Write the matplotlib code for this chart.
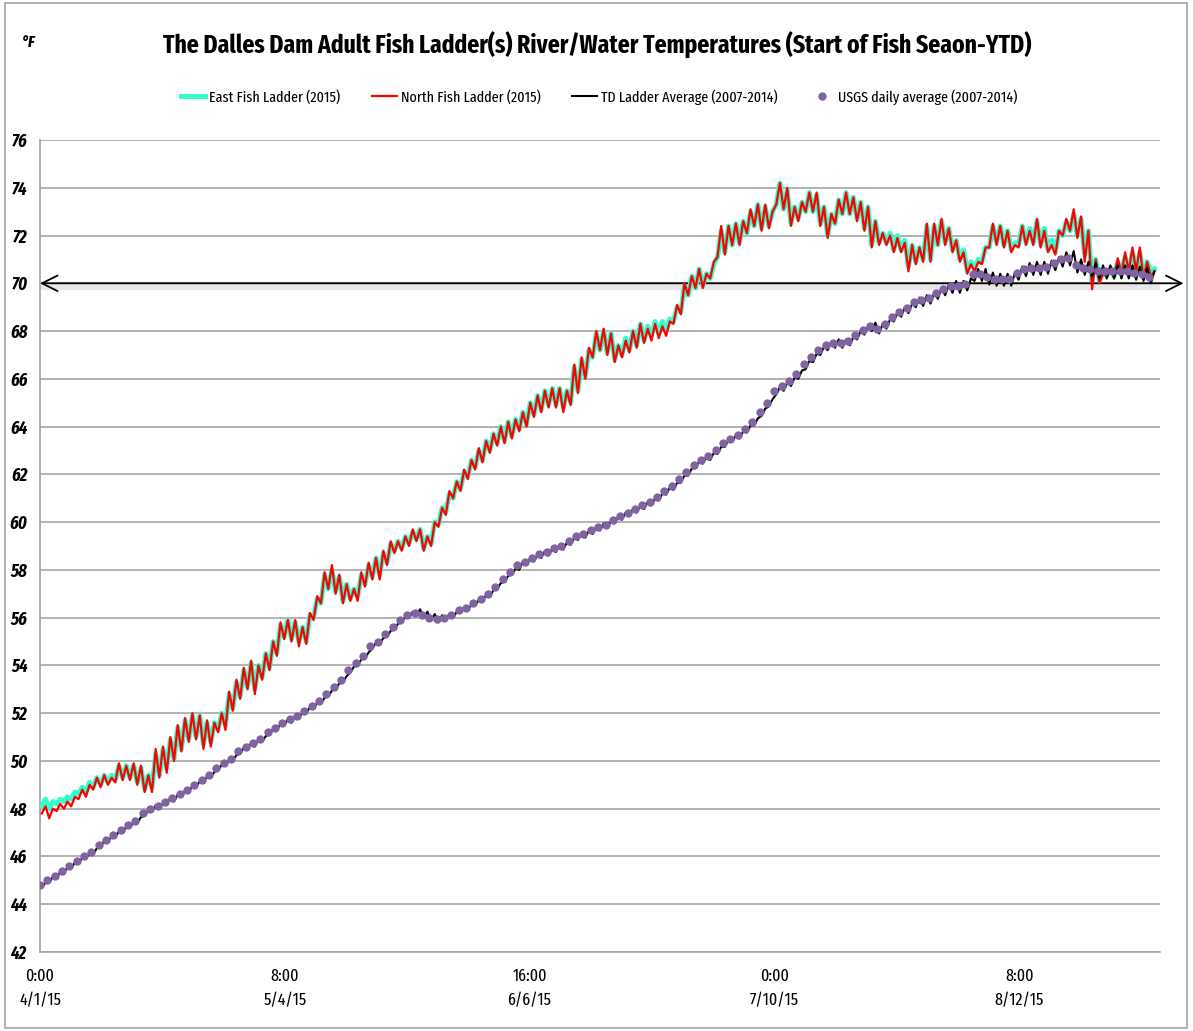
import numpy as np
import matplotlib.pyplot as plt
from matplotlib.patches import Rectangle

# --- fonts: narrow Calibri-like faces first, DejaVu as last resort ---
plt.rcParams['font.family'] = ['Fira Sans Extra Condensed', 'PT Sans Narrow',
                               'Fira Sans Condensed', 'Carlito', 'DejaVu Sans']

# --- data: one value per day from 4/1/15 (deg F) ---
# North Fish Ladder (2015): daily low / daily high
north_lo = [47.8, 47.6, 47.9, 48.0, 48.1, 48.4, 48.5, 48.8, 48.9, 49.0,
            49.1, 49.2, 49.2, 49.0, 48.7, 48.7, 49.3, 49.5, 50.0, 50.4,
            50.8, 50.9, 50.5, 50.6, 51.2, 51.3, 52.1, 52.6, 53.0, 52.8,
            53.4, 53.8, 54.4, 55.1, 55.0, 54.8, 54.9, 55.9, 56.6, 57.2,
            57.0, 56.6, 56.7, 56.7, 57.3, 57.6, 57.6, 58.2, 58.7, 58.8,
            59.0, 59.2, 58.8, 59.0, 59.8, 60.3, 61.0, 61.3, 61.8, 62.2,
            62.5, 62.9, 63.2, 63.3, 63.5, 63.8, 64.0, 64.4, 64.6, 64.8,
            64.8, 64.6, 64.9, 65.4, 66.0, 66.9, 67.2, 67.0, 66.7, 66.9,
            67.1, 67.3, 67.5, 67.6, 67.7, 67.8, 68.3, 68.7, 69.5, 69.8,
            69.8, 70.2, 71.1, 71.2, 71.6, 71.6, 72.1, 72.4, 72.2, 72.3,
            73.3, 73.1, 72.4, 72.6, 73.0, 73.0, 72.4, 71.9, 72.5, 72.9,
            72.9, 72.6, 72.2, 71.5, 71.6, 71.6, 71.3, 71.3, 70.5, 70.8,
            70.9, 70.9, 71.6, 71.6, 71.3, 70.9, 70.4, 70.5, 70.8, 71.5,
            71.6, 71.5, 71.3, 71.5, 71.6, 71.6, 71.5, 71.3, 71.2, 72.0,
            72.2, 71.9, 70.9, 69.75, 70.0, 70.3, 70.2, 70.4, 70.5, 70.5,
            70.2, 70.3]
north_hi = [48.1, 48.0, 48.2, 48.3, 48.5, 48.8, 49.0, 49.3, 49.4, 49.3,
            49.9, 49.8, 49.9, 49.8, 49.4, 50.5, 50.6, 51.0, 51.5, 51.8,
            52.0, 51.9, 51.7, 51.6, 52.0, 52.9, 53.4, 53.9, 54.2, 54.0,
            54.5, 55.0, 55.8, 55.9, 55.9, 55.6, 56.2, 56.9, 57.9, 58.2,
            57.8, 57.4, 57.2, 57.9, 58.3, 58.5, 58.8, 59.2, 59.2, 59.4,
            59.7, 59.7, 59.4, 60.0, 60.6, 61.3, 61.7, 62.2, 62.6, 63.1,
            63.4, 63.7, 64.0, 64.2, 64.3, 64.6, 65.0, 65.3, 65.5, 65.6,
            65.6, 65.5, 66.6, 66.9, 67.3, 68.0, 68.1, 67.9, 67.4, 67.6,
            68.0, 68.3, 68.1, 68.3, 68.2, 68.4, 69.1, 70.0, 70.3, 70.6,
            70.4, 70.9, 72.4, 72.4, 72.5, 72.6, 73.1, 73.3, 73.3, 73.0,
            74.2, 74.0, 73.2, 73.4, 73.8, 73.8, 73.2, 72.9, 73.5, 73.8,
            73.6, 73.4, 73.2, 72.6, 72.1, 72.0, 71.9, 71.7, 71.6, 71.5,
            72.5, 72.5, 72.7, 72.3, 71.8, 71.3, 70.8, 70.9, 71.5, 72.5,
            72.4, 72.2, 71.6, 72.4, 72.2, 72.7, 72.2, 71.6, 72.2, 72.7,
            73.1, 72.8, 72.2, 71.0, 70.4, 70.6, 71.05, 71.3, 71.5, 71.5,
            70.9, 70.5]

# East Fish Ladder (2015): daily low / daily high
east_lo = [48.1, 48.0, 48.2, 48.3, 48.4, 48.6, 48.7, 48.9, 49.0, 49.1,
           49.2, 49.3, 49.3, 49.1, 48.8, 48.9, 49.4, 49.7, 50.1, 50.5,
           50.9, 51.0, 50.7, 50.8, 51.3, 51.5, 52.2, 52.7, 53.1, 53.0,
           53.5, 53.9, 54.5, 55.2, 55.1, 55.0, 55.0, 56.0, 56.6, 57.2,
           57.1, 56.7, 56.8, 56.9, 57.4, 57.7, 57.8, 58.3, 58.8, 58.9,
           59.1, 59.3, 58.9, 59.1, 59.9, 60.4, 61.0, 61.4, 61.9, 62.3,
           62.6, 63.0, 63.3, 63.4, 63.6, 63.9, 64.1, 64.5, 64.7, 64.9,
           64.9, 64.8, 65.0, 65.5, 66.1, 66.9, 67.2, 67.1, 66.8, 67.0,
           67.2, 67.4, 67.6, 67.8, 67.9, 68.0, 68.4, 68.8, 69.5, 69.8,
           69.9, 70.2, 71.1, 71.3, 71.6, 71.7, 72.1, 72.4, 72.3, 72.4,
           73.3, 73.1, 72.5, 72.7, 73.0, 73.0, 72.5, 72.0, 72.5, 72.9,
           72.9, 72.7, 72.3, 71.6, 71.7, 71.7, 71.4, 71.4, 70.7, 70.9,
           71.0, 71.0, 71.6, 71.7, 71.4, 71.0, 70.5, 70.6, 70.9, 71.5,
           71.7, 71.6, 71.4, 71.6, 71.7, 71.7, 71.6, 71.4, 71.3, 72.0,
           72.2, 72.0, 71.2, 70.1, 70.1, 70.3, 70.3, 70.5, 70.5, 70.6,
           70.3, 70.5]
east_hi = [48.4, 48.3, 48.4, 48.5, 48.7, 48.9, 49.1, 49.3, 49.4, 49.4,
           49.8, 49.8, 49.8, 49.7, 49.4, 50.3, 50.5, 50.9, 51.4, 51.7,
           51.9, 51.9, 51.6, 51.6, 52.0, 52.8, 53.3, 53.8, 54.1, 54.0,
           54.5, 55.0, 55.7, 55.9, 55.8, 55.6, 56.1, 56.8, 57.8, 58.0,
           57.7, 57.4, 57.2, 57.8, 58.2, 58.5, 58.7, 59.1, 59.2, 59.4,
           59.6, 59.7, 59.4, 60.0, 60.6, 61.2, 61.7, 62.1, 62.6, 63.0,
           63.4, 63.7, 64.0, 64.2, 64.3, 64.6, 65.0, 65.3, 65.5, 65.6,
           65.6, 65.5, 66.5, 66.8, 67.2, 67.9, 68.0, 67.9, 67.4, 67.7,
           68.0, 68.3, 68.2, 68.4, 68.4, 68.5, 69.0, 69.9, 70.3, 70.6,
           70.4, 70.8, 72.2, 72.4, 72.5, 72.6, 73.0, 73.3, 73.2, 73.0,
           74.2, 73.9, 73.2, 73.4, 73.8, 73.7, 73.2, 72.9, 73.5, 73.8,
           73.6, 73.4, 73.2, 72.6, 72.1, 72.1, 72.0, 71.8, 71.6, 71.5,
           72.4, 72.4, 72.6, 72.3, 71.8, 71.4, 70.9, 71.0, 71.5, 72.4,
           72.4, 72.2, 71.7, 72.4, 72.3, 72.6, 72.3, 71.8, 72.2, 72.6,
           72.9, 72.7, 72.2, 71.0, 70.5, 70.6, 70.9, 71.1, 71.3, 71.3,
           70.9, 70.6]

# TD Ladder Average (2007-2014): daily low / daily high
td_lo = [44.7, 44.9, 45.1, 45.3, 45.5, 45.7, 45.9, 46.1, 46.4, 46.6,
         46.8, 47.0, 47.2, 47.4, 47.7, 47.9, 48.0, 48.2, 48.3, 48.5,
         48.7, 48.9, 49.1, 49.3, 49.6, 49.8, 50.0, 50.3, 50.5, 50.6,
         50.8, 51.1, 51.3, 51.5, 51.6, 51.8, 52.0, 52.2, 52.4, 52.7,
         53.0, 53.3, 53.7, 54.0, 54.3, 54.7, 54.9, 55.2, 55.5, 55.8,
         56.0, 56.1, 56.0, 55.9, 55.8, 55.9, 56.0, 56.2, 56.3, 56.5,
         56.7, 56.9, 57.2, 57.5, 57.8, 58.0, 58.2, 58.35, 58.5, 58.6,
         58.75, 58.85, 59.05, 59.25, 59.35, 59.5, 59.65, 59.75, 59.95, 60.1,
         60.25, 60.4, 60.55, 60.7, 60.9, 61.15, 61.35, 61.65, 61.95, 62.25,
         62.45, 62.6, 62.85, 63.15, 63.35, 63.5, 63.75, 64.05, 64.45, 64.85,
         65.35, 65.5, 65.7, 66.0, 66.4, 66.7, 67.0, 67.2, 67.3, 67.3,
         67.4, 67.65, 67.85, 68.0, 67.9, 68.1, 68.4, 68.6, 68.75, 69.0,
         69.05, 69.15, 69.35, 69.5, 69.6, 69.6, 69.7, 70.1, 70.1, 69.95,
         69.9, 69.9, 69.9, 70.15, 70.3, 70.35, 70.35, 70.4, 70.55, 70.7,
         70.75, 70.45, 70.35, 70.3, 70.2, 70.2, 70.2, 70.2, 70.2, 70.15,
         70.1, 70.0]
td_hi = [44.9, 45.15, 45.35, 45.55, 45.75, 45.95, 46.15, 46.35, 46.65, 46.85,
         47.05, 47.25, 47.45, 47.65, 47.95, 48.15, 48.25, 48.45, 48.6, 48.75,
         48.95, 49.15, 49.35, 49.55, 49.85, 50.05, 50.25, 50.55, 50.75, 50.9,
         51.05, 51.35, 51.55, 51.75, 51.9, 52.05, 52.25, 52.45, 52.65, 52.95,
         53.25, 53.55, 53.95, 54.25, 54.55, 54.95, 55.15, 55.45, 55.75, 56.05,
         56.25, 56.35, 56.25, 56.15, 56.1, 56.15, 56.25, 56.45, 56.55, 56.75,
         56.95, 57.15, 57.45, 57.75, 58.05, 58.35, 58.5, 58.65, 58.8, 58.9,
         59.05, 59.15, 59.35, 59.55, 59.65, 59.8, 59.95, 60.05, 60.25, 60.4,
         60.55, 60.7, 60.85, 61.0, 61.2, 61.45, 61.65, 61.95, 62.25, 62.55,
         62.75, 62.9, 63.15, 63.45, 63.65, 63.8, 64.05, 64.35, 64.75, 65.15,
         65.65, 65.85, 66.05, 66.35, 66.75, 67.05, 67.35, 67.55, 67.65, 67.65,
         67.75, 68.0, 68.2, 68.35, 68.3, 68.5, 68.8, 69.0, 69.15, 69.4,
         69.5, 69.6, 69.8, 69.95, 70.1, 70.1, 70.2, 70.6, 70.6, 70.45,
         70.4, 70.4, 70.45, 70.7, 70.85, 70.9, 70.9, 70.95, 71.1, 71.3,
         71.35, 71.0, 70.9, 70.85, 70.75, 70.75, 70.75, 70.75, 70.75, 70.7,
         70.65, 70.5]

# USGS daily average (2007-2014)
usgs = [44.8, 45.0, 45.2, 45.4, 45.6, 45.8, 46.0, 46.2, 46.5, 46.7,
        46.9, 47.1, 47.3, 47.5, 47.8, 48.0, 48.1, 48.3, 48.45, 48.6,
        48.8, 49.0, 49.2, 49.4, 49.7, 49.9, 50.1, 50.4, 50.6, 50.75,
        50.9, 51.2, 51.4, 51.6, 51.75, 51.9, 52.1, 52.3, 52.5, 52.8,
        53.1, 53.4, 53.8, 54.1, 54.4, 54.8, 55.0, 55.3, 55.6, 55.9,
        56.1, 56.2, 56.1, 56.0, 55.95, 56.0, 56.1, 56.3, 56.4, 56.6,
        56.8, 57.0, 57.3, 57.6, 57.9, 58.2, 58.35, 58.5, 58.65, 58.75,
        58.9, 59.0, 59.2, 59.4, 59.5, 59.65, 59.8, 59.9, 60.1, 60.25,
        60.4, 60.55, 60.7, 60.85, 61.05, 61.3, 61.5, 61.8, 62.1, 62.4,
        62.6, 62.75, 63.0, 63.3, 63.5, 63.65, 63.9, 64.2, 64.6, 65.0,
        65.5, 65.7, 65.9, 66.2, 66.6, 66.9, 67.2, 67.4, 67.5, 67.5,
        67.6, 67.85, 68.05, 68.2, 68.1, 68.3, 68.6, 68.8, 68.95, 69.2,
        69.3, 69.4, 69.6, 69.75, 69.9, 69.9, 69.95, 70.4, 70.4, 70.25,
        70.2, 70.2, 70.2, 70.45, 70.6, 70.65, 70.65, 70.7, 70.85, 71.0,
        71.05, 70.75, 70.65, 70.6, 70.5, 70.5, 70.5, 70.5, 70.5, 70.45,
        70.4, 70.25]

# x axis: hourly categories, label every 800 h
tick_hours = [0, 800, 1600, 2400, 3200]
tick_labels = ['0:00\n4/1/15', '8:00\n5/4/15', '16:00\n6/6/15',
               '0:00\n7/10/15', '8:00\n8/12/15']
y_ticks = list(range(42, 77, 2))
ref_temp = 70

hours = np.arange(len(usgs)) * 24


def daily_series(lo, hi):
    # morning low, evening high for each day
    x = np.column_stack([hours + 6, hours + 18]).ravel()
    y = np.column_stack([lo, hi]).ravel()
    return x, y


fig = plt.figure(figsize=(11.93, 10.31), dpi=100)
fig.patches.append(Rectangle((0.004, 0.003), 0.991, 0.994, transform=fig.transFigure,
                             fill=False, edgecolor='#a6a6a6', linewidth=1.2))
ax = fig.add_axes([40 / 1193, 79 / 1031, 1120 / 1193, 812 / 1031])

ex, ey = daily_series(east_lo, east_hi)
nx, ny = daily_series(north_lo, north_hi)
tx, ty = daily_series(td_lo, td_hi)

ax.plot(ex, ey, color='#33FFCC', lw=3.6, label='East Fish Ladder (2015)', zorder=3)
ax.plot(nx, ny, color='#FF0000', lw=1.6, label='North Fish Ladder (2015)', zorder=4)
ax.plot(tx, ty, color='black', lw=1.5, label='TD Ladder Average (2007-2014)', zorder=5)
ax.plot(hours, usgs, linestyle='none', marker='o', markersize=6, color='#8064A2',
        markeredgewidth=0, label='USGS daily average (2007-2014)', zorder=6)

# 70 F reference line with arrows (plus a soft shadow)
ax.axhline(ref_temp - 0.12, color='#d0d0d0', lw=6, alpha=0.5, zorder=2)
ax.annotate('', xy=(1.021, ref_temp), xytext=(0.0, ref_temp),
            xycoords=('axes fraction', 'data'), textcoords=('axes fraction', 'data'),
            arrowprops=dict(arrowstyle='<->', color='black', lw=1.3, mutation_scale=28,
                            shrinkA=0, shrinkB=0),
            annotation_clip=False, zorder=2.5)

ax.set_xlim(0, 3660)
ax.set_ylim(42, 76)
ax.set_yticks(y_ticks)
ax.set_yticklabels([str(v) for v in y_ticks], fontsize=13, fontweight='bold',
                   fontstyle='italic')
ax.set_xticks(tick_hours)
ax.set_xticklabels(tick_labels, fontsize=12.5, linespacing=1.6)
ax.tick_params(axis='both', length=0)
ax.tick_params(axis='y', pad=9)
ax.tick_params(axis='x', pad=12)

ax.grid(axis='y', color='#a6a6a6', lw=1.2)
ax.set_axisbelow(True)
for side in ['top', 'right']:
    ax.spines[side].set_visible(False)
ax.spines['left'].set_color('#a0a0a0')
ax.spines['bottom'].set_color('#a6a6a6')
ax.spines['left'].set_linewidth(1.2)
ax.spines['bottom'].set_linewidth(1.2)

fig.text(597 / 1193, 1 - 45 / 1031,
         'The Dalles Dam Adult Fish Ladder(s) River/Water Temperatures (Start of Fish Seaon-YTD)',
         ha='center', va='center', fontsize=18.5, fontweight='bold')
fig.text(22 / 1193, 1 - 42 / 1031, '°F', ha='left', va='center', fontsize=12,
         fontweight='bold', fontstyle='italic')

fig.legend(loc='center', bbox_to_anchor=(599 / 1193, 1 - 97 / 1031), ncol=4,
           frameon=False, fontsize=11, handlelength=1.6, columnspacing=2.1,
           handletextpad=0.25)

fig.savefig('out.png', dpi=100)
